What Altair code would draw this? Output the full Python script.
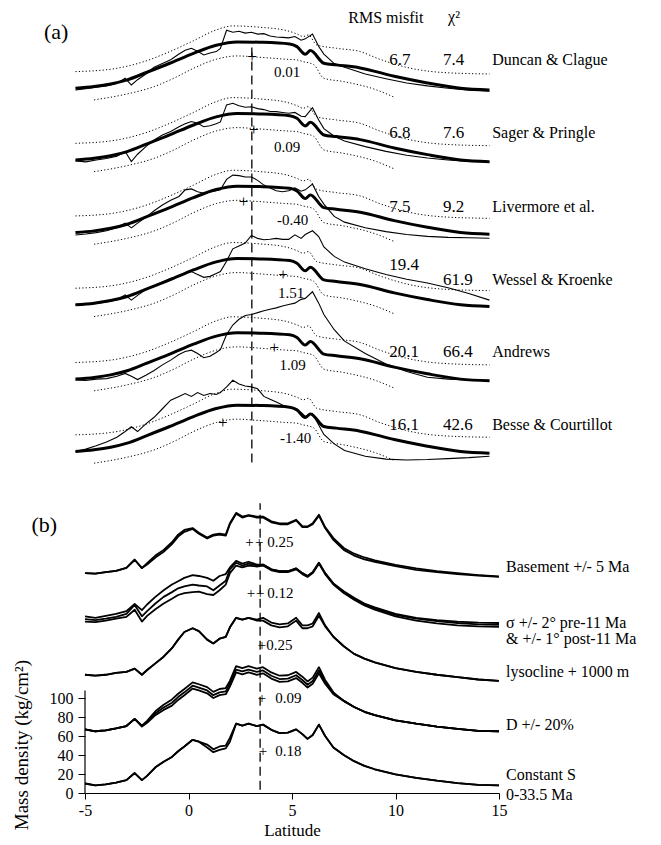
import altair as alt
import pandas as pd

FONT = "Liberation Serif"

# ================= Panel (a): plate-model fits =================
A_MODELS = ["Duncan & Clague", "Sager & Pringle", "Livermore et al.",
            "Wessel & Kroenke", "Andrews", "Besse & Courtillot"]
A_RMS = ["6.7", "6.8", "7.5", "19.4", "20.1", "16.1"]
A_CHI2 = ["7.4", "7.6", "9.2", "61.9", "66.4", "42.6"]
A_OFFSET_VAL = [0.01, 0.09, -0.40, 1.51, 1.09, -1.40]
A_OFFSET_TXT = ["0.01", "0.09", "-0.40", "1.51", "1.09", "-1.40"]
A_REF_LAT = 3.52          # reference latitude (dashed line) in panel (a)

# observed profile (thick) and its envelope (dotted), relative values
THICK_LAT = [-5, -4.1, -3.3, -2.5, -1.55, -0.45, 0.7, 1.8, 2.8, 3.9, 5.35, 5.7,
             6.1, 6.35, 7.0, 7.6, 8.75, 10.4, 12, 13.6, 15]
THICK_VAL = [0, 1.8, 4.5, 8.8, 16.8, 26.3, 36.8, 45.3, 48.8, 48.4, 46.6, 43.8,
             35.8, 39.6, 26.3, 24.6, 21.4, 12.6, 5.6, 0, -1.8]
UP_LAT = [-5, -3.3, -1.7, -0.45, 0.7, 1.8, 2.6, 3.9, 5.2, 5.7, 6.0, 6.25, 6.65,
          7.6, 8.75, 9.7, 11.2, 12.8, 15]
UP_VAL = [17.5, 20, 28, 38.5, 50, 61.4, 65.6, 64.2, 60.7, 57.1, 54.4, 56.1, 45.6,
          42.1, 38.6, 30.5, 21, 16.5, 15]
LO_LAT = [-4.1, -2.5, -1.2, -0.25, 0.7, 1.8, 2.8, 3.9, 5.2, 5.7, 6.0, 6.5, 7.0,
          7.95, 9.55, 10.4]
LO_VAL = [-12.3, -6, 1.7, 10.5, 21, 30.5, 34, 32.6, 30.5, 29.8, 28, 25, 10.5,
          7, -1.8, -9.5]

# predicted profiles (thin) for each plate model
TL = [-5, -4.5, -4, -3.5, -3, -2.6, -2.3, -2, -1.6, -1.2, -0.8, -0.4, 0, 0.3, 0.6,
      0.9, 1.2, 1.5, 1.8, 2.0, 2.3, 2.6, 2.9, 3.2, 3.5, 3.8, 4.1, 4.4, 4.7, 5.0,
      5.3, 5.6, 5.9, 6.1, 6.45, 6.75, 7.0, 7.5, 8, 9, 10, 11, 12, 13, 14, 15]
THIN_DC = [-1.8, -0.5, 1, 2.5, 5, 10.5, 3.4, 9, 15, 22, 26, 30, 36, 40, 42, 39, 35,
           37, 38.6, 42, 61, 59, 60, 58, 59, 57, 57.5, 55, 54, 53.5, 53, 54.5, 50.5,
           52, 57, 44, 36, 26, 22, 15, 10, 5.5, 2.5, 0, -2, -3]
THIN_SP = [-1, -2, 0, 1.5, 4, 8.8, -1.8, 6, 14, 21, 26.3, 30, 35, 38, 40.4, 38.6, 35,
           36, 38, 40, 58, 59.6, 57, 55.4, 56, 54, 53, 51, 50.9, 50, 49.1, 50, 46,
           45.6, 55, 42, 33, 25, 20, 14, 9, 5, 2, 0, -1.5, -2]
THIN_LV = [-2.5, -1.5, 0, 2, 5, 10, 5, 10, 16, 23, 29, 34, 38, 45, 46, 43, 41.5, 43,
           44, 45, 56, 60.5, 60, 58.5, 58.5, 55, 50, 47, 44, 43, 44, 47, 43.5, 45,
           51, 38, 30, 17, 11, 5, 1, -2, -4, -5, -5.5, -6]
THIN_WK = [0, 0.5, 1.5, 3, 5.5, 10.5, 5, 10, 16, 20, 24, 28, 30, 33, 35, 32, 29, 30,
           33, 35, 46, 59, 62, 65, 73, 70, 68.5, 69, 70, 69, 69, 73.7, 70, 74, 78,
           72, 61, 51, 45, 38, 32, 27, 23, 18, 12, 5]
THIN_AN = [-1, -1.5, 0, 0.5, 3, 6, 3, -0.5, 4, 9, 15, 20, 26, 29, 30.5, 27, 22.5, 24,
           28, 31, 47, 57, 63, 67, 68, 70, 72, 73.5, 75, 77, 78.5, 80, 84, 85, 92,
           80, 68, 52, 40, 27, 16, 8, 2, 0, -1, -2]
THIN_BC = [0, 2.5, 6, 10, 15, 21, 26, 21, 29, 36, 45, 54, 58, 61, 58, 62, 59, 61, 60,
           62, 68, 75, 71, 69, 68, 66, 58, 55, 52, 49, 47, 45, 41, 37, 40, 28, 18, 8,
           1, -5, -8, -9, -8.5, -7.5, -6.5, -5]
A_THIN = [THIN_DC, THIN_SP, THIN_LV, THIN_WK, THIN_AN, THIN_BC]

# ================= Panel (b): sensitivity tests =================
B_LAT = [-5, -4.5, -4, -3.5, -3, -2.6, -2.25, -2, -1.6, -1.2, -0.8, -0.5, -0.2, 0.2,
         0.5, 0.9, 1.2, 1.5, 1.8, 2.0, 2.3, 2.6, 2.9, 3.3, 3.6, 4.0, 4.4, 4.8, 5.2,
         5.5, 5.75, 6.0, 6.3, 6.6, 7.0, 7.5, 8.0, 8.5, 9, 10, 11, 12, 13, 14, 15]
BASE_1 = [9.6, 9, 10.5, 12, 15, 23.6, 14.8, 20, 28, 34, 42, 50, 55, 57, 52, 47, 50, 51,
          50, 62, 73, 69, 70.5, 69, 69, 64, 62, 62, 65.7, 59, 58.6, 62, 71, 58, 46.4,
          36, 30, 26, 23, 18.3, 14.5, 11.5, 9.5, 7.5, 6]
BASE_2 = [9.6, 9, 10.5, 12, 15, 23.6, 14.8, 18.5, 26, 32, 40, 48, 53, 56, 51, 46, 49,
          50, 49, 61, 72, 68, 70, 68, 68, 63, 61, 61, 65, 58, 58, 61, 70, 57, 44.5, 34,
          28, 24, 21.5, 16.8, 13, 10.5, 8.5, 7, 5.5]
SIG_HI = [12.5, 11, 13, 15, 18, 25.5, 19, 25, 33, 40, 46, 49.5, 53, 56, 55, 53, 50, 55,
          57, 64, 71, 68, 70, 67, 67, 62, 60, 60, 63, 58, 55, 59, 69, 58, 47, 39, 32,
          26, 22, 15, 11, 8.5, 7, 6, 5.5]
SIG_MID = [9.5, 8.5, 10, 12, 15, 24.5, 12.5, 18, 26, 33, 38, 42, 44, 46, 45, 44, 40, 45,
           50, 62, 69, 66, 68, 66, 67, 62, 60, 60, 63, 58, 55, 59, 69, 58, 47, 38, 31,
           25, 21, 14, 10, 7.5, 5.5, 4, 3.5]
SIG_LO = [7, 6.5, 8, 10, 12, 19.5, 7, 13, 20, 26, 31, 35, 37, 38, 38.5, 36, 35, 40, 46,
          58, 66, 64, 66, 65, 66, 61, 59, 59, 62, 57, 54, 58, 68, 57, 46, 37, 30, 24,
          19.5, 12.5, 8, 5, 3, 2, 1.5]
LYS_1 = [10, 9, 10, 12, 13, 16.5, 10, 15, 22, 29, 38, 47, 55, 59, 56, 47, 43, 48, 50,
         60, 70, 68, 70, 68, 70, 65, 63, 64, 70, 62, 62, 64, 75, 62, 50, 40, 32, 27,
         23, 17, 13, 10, 7.5, 5, 3.5]
LYS_2 = [10, 9, 10, 12, 13, 16.5, 10, 15, 22, 29, 38, 47, 55, 59, 56, 47, 43, 48, 50,
         60, 70, 68, 70, 67, 67, 62, 60, 61, 67, 59, 59, 61, 72, 61, 50, 40, 32, 27,
         23, 17, 13, 10, 7.5, 5, 3.5]
D_HI = [10, 8, 9, 11, 13.5, 21, 14, 19, 29, 36, 41.5, 47.5, 52.5, 59.5, 57.5, 54.5,
        49.5, 52.5, 53.5, 61, 76.5, 74.5, 76.5, 74, 75.5, 70, 66.5, 67, 70.5, 65.5,
        60.5, 64.5, 75.5, 62, 49, 40, 33.5, 28.5, 25, 19.5, 16, 13, 10.5, 8.5, 8]
D_MID = [10, 8, 9, 11, 13.5, 21, 13.5, 18, 27, 33, 38, 44, 49, 56, 54, 51, 46, 49, 50,
         58, 73, 71, 73, 70.5, 72, 66.5, 63, 63.5, 67, 62, 57, 61, 72, 60, 48, 40,
         33.5, 28.5, 25, 19.5, 16, 13, 10.5, 8.5, 8]
D_LO = [10, 8, 9, 11, 13.5, 21, 13, 17, 25, 30.5, 35, 41, 46, 53, 51, 48, 43, 46, 47,
        55, 70, 68, 70, 67.5, 69, 63.5, 60, 60.5, 64, 59, 54, 58, 69, 58, 47, 40, 33.5,
        28.5, 25, 19.5, 16, 13, 10.5, 8.5, 8]
CS_1 = [10, 8, 9, 11, 13.5, 21, 13.5, 18, 27, 33, 38, 44, 49, 56, 54, 51, 46, 49, 50,
        58, 73, 71, 73, 70.5, 72, 66.5, 63, 63.5, 67, 62, 57, 61, 72, 60, 48, 40, 33.5,
        28.5, 25, 19.5, 16, 13, 10.5, 8.5, 8]
CS_2 = [10, 8, 9, 11, 13.5, 21, 13.5, 18, 27, 33, 38, 44, 49, 56, 54, 48, 43, 45.5, 47,
        54, 73, 71, 73, 70.5, 72, 66.5, 63, 63.5, 67, 62, 57, 61, 72, 60, 48, 40, 33.5,
        28.5, 25, 19.5, 16, 13, 10.5, 8.5, 8]
B_GROUPS = [[BASE_1, BASE_2], [SIG_HI, SIG_MID, SIG_LO], [LYS_1, LYS_2],
            [D_HI, D_MID, D_LO], [CS_1, CS_2]]
B_REF_LAT = 3.46
B_SHIFT_TXT = ["0.25", "0.12", "0.25", "0.09", "0.18"]
B_PLUS_LAT = [[2.95, 3.42], [3.02, 3.47], [3.55], [3.55], [3.6]]
B_LABELS = ["Basement +/- 5 Ma", "σ +/- 2° pre-11 Ma", "& +/- 1° post-11 Ma",
            "lysocline + 1000 m", "D +/- 20%", "Constant S", "0-33.5 Ma"]

# ---------------- layout (display offsets / label positions) ----------------
A_XSHIFT = -0.46
A_BASE = [742.1, 666.6, 590.1, 514.0, 435.8, 359.6]
A_NAME_Y = [771.6, 694.7, 616.8, 540.0, 464.2, 387.4]
A_RMS_Y = [771.6, 694.7, 616.8, 555.8, 464.2, 387.4]
A_NUM_X = [4.77, 4.77, 5.03, 4.96, 5.03, 5.17]
A_NUM_Y = [759.3, 680.3, 603.2, 526.0, 450.5, 373.4]
A_PLUS_Y = [775.0, 697.9, 622.4, 545.3, 468.1, 389.2]
B_BASE = [222, 173.5, 114.5, 57, 0]
B_LABEL_Y = [237.9, 178.6, 161.8, 127.7, 71.6, 18.9, -2.1]
B_NUM_X = [3.8, 3.8, 3.75, 4.19, 4.19]
B_NUM_Y = [264.5, 210.2, 155.8, 99.7, 44.2]

# ---------------- build tables ----------------
thick_rows, thin_rows, dot_rows = [], [], []
for i in range(6):
    for la, v in zip(THICK_LAT, THICK_VAL):
        thick_rows.append(dict(x=la + A_XSHIFT, y=v + A_BASE[i], s=f"k{i}"))
    for la, v in zip(UP_LAT, UP_VAL):
        dot_rows.append(dict(x=la + A_XSHIFT, y=v + A_BASE[i], s=f"u{i}"))
    for la, v in zip(LO_LAT, LO_VAL):
        dot_rows.append(dict(x=la + A_XSHIFT, y=v + A_BASE[i], s=f"l{i}"))
    for la, v in zip(TL, A_THIN[i]):
        thin_rows.append(dict(x=la + A_XSHIFT, y=v + A_BASE[i], s=f"t{i}"))
thick_df = pd.DataFrame(thick_rows)
thin_df = pd.DataFrame(thin_rows)
dot_df = pd.DataFrame(dot_rows)

b_rows = []
for g, lines in enumerate(B_GROUPS):
    for j, vals in enumerate(lines):
        for la, v in zip(B_LAT, vals):
            b_rows.append(dict(x=la, y=v + B_BASE[g], s=f"b{g}_{j}"))
b_df = pd.DataFrame(b_rows)

dash_df = pd.DataFrame([dict(x=A_REF_LAT + A_XSHIFT, y=348.0, y2=787.0),
                        dict(x=B_REF_LAT, y=3.5, y2=305.0)])
yline_df = pd.DataFrame([dict(x=-5, y=0, y2=108)])

names_df = pd.DataFrame(dict(x=[14.67] * 6, y=A_NAME_Y, t=A_MODELS))
rms_df = pd.DataFrame(dict(x=[9.7] * 6, y=A_RMS_Y, t=A_RMS))
chi_df = pd.DataFrame(dict(x=[12.3] * 6, y=A_NAME_Y, t=A_CHI2))
anum_df = pd.DataFrame(dict(x=A_NUM_X, y=A_NUM_Y, t=A_OFFSET_TXT))
aplus_df = pd.DataFrame(dict(x=[A_REF_LAT + d + A_XSHIFT for d in A_OFFSET_VAL],
                             y=A_PLUS_Y, t=["+"] * 6))
bplus_rows = []
for g, lats in enumerate(B_PLUS_LAT):
    for la in lats:
        bplus_rows.append(dict(x=la, y=B_NUM_Y[g], t="+"))
bplus_df = pd.DataFrame(bplus_rows)
bnum_df = pd.DataFrame(dict(x=B_NUM_X, y=B_NUM_Y, t=B_SHIFT_TXT))
blab_df = pd.DataFrame(dict(x=[15.34] * 7, y=B_LABEL_Y, t=B_LABELS))
head_df = pd.DataFrame(dict(x=[7.72, 12.54], y=[815.8, 817.0], t=["RMS misfit", "χ²"]))
panel_df = pd.DataFrame(dict(x=[-6.39, -6.97], y=[801.0, 282.0], t=["(a)", "(b)"]))
ytitle_df = pd.DataFrame(dict(x=[-8.05], y=[50.5], t=["Mass density (kg/cm²)"]))

# ---------------- encodings ----------------
xs = alt.Scale(domain=[-5, 15], nice=False, zero=False)
ys = alt.Scale(domain=[0, 835], nice=False, zero=False)
x_axis = alt.Axis(values=[-5, 0, 5, 10, 15], title="Latitude", grid=False,
                  tickSize=6, labelFontSize=16, titleFontSize=17, labelPadding=3,
                  titlePadding=4, labelExpr="'' + datum.value", labelFlush=False,
                  titleFontWeight="normal", domainColor="black", tickColor="black",
                  labelColor="black", titleColor="black")
y_axis = alt.Axis(values=[0, 20, 40, 60, 80, 100], title=None, grid=False,
                  domain=False, tickSize=7, labelFontSize=16, labelPadding=5,
                  tickColor="black", labelColor="black")
X = alt.X("x:Q", scale=xs, axis=x_axis)
Y = alt.Y("y:Q", scale=ys, axis=y_axis)


def lines(df, **kw):
    return alt.Chart(df).mark_line(color="black", **kw).encode(
        x=X, y=Y, detail=alt.Detail("s:N"))


def texts(df, size, align="left", **kw):
    return alt.Chart(df).mark_text(font=FONT, fontSize=size, align=align,
                                   baseline="middle", color="black", **kw).encode(
        x=X, y=Y, text="t:N")


layers = [
    lines(b_df, strokeWidth=1.8, strokeJoin="round"),
    lines(dot_df, strokeWidth=1, strokeDash=[1.2, 2.2], interpolate="monotone"),
    lines(thick_df, strokeWidth=3, interpolate="monotone"),
    lines(thin_df, strokeWidth=1.1),
    alt.Chart(dash_df).mark_rule(color="black", strokeWidth=1.3,
                                 strokeDash=[9, 5]).encode(x=X, y=Y, y2="y2:Q"),
    alt.Chart(yline_df).mark_rule(color="black", strokeWidth=1.2).encode(
        x=X, y=Y, y2="y2:Q"),
    texts(names_df, 16),
    texts(rms_df, 17),
    texts(chi_df, 17),
    texts(anum_df, 15, align="center"),
    texts(aplus_df, 17, align="center"),
    texts(bplus_df, 15, align="center"),
    texts(bnum_df, 15),
    texts(blab_df, 16),
    texts(head_df, 16),
    texts(panel_df, 22, align="center"),
    texts(ytitle_df, 19, align="center", angle=270),
]

chart = alt.layer(*layers).properties(
    width=414, height=793,
    autosize=alt.AutoSizeParams(type="none"),
    padding={"left": 85, "top": 0, "right": 162, "bottom": 52},
    background="white",
).configure_view(stroke=None).configure_axis(
    labelFont=FONT, titleFont=FONT)

chart.save("out.html", embed_options={"renderer": "svg", "actions": False})
